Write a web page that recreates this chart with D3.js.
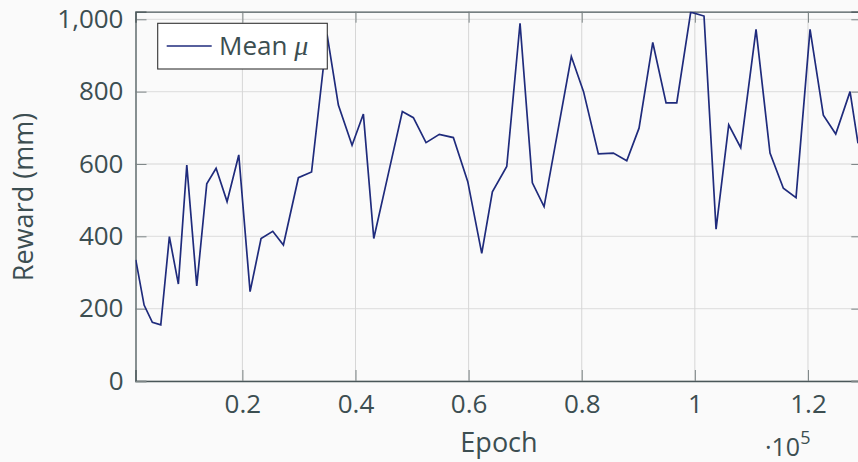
<!DOCTYPE html>
<html>
<head>
<meta charset="utf-8">
<script src="https://cdn.jsdelivr.net/npm/d3@7"></script>
<style>
  html, body { margin: 0; padding: 0; background: #fafafa; }
  svg { display: block; font-family: "Open Sans", "Fira Sans", sans-serif; }
</style>
</head>
<body>
<div id="chart"></div>
<script>
// données
const epochs = [1150, 2620, 4080, 5570, 7090, 8680, 10170, 11930, 13700, 15350,
  17290, 19360, 21360, 23300, 25370, 27250, 29900, 32230, 34970, 36970,
  39390, 41390, 43230, 45760, 48280, 50230, 52470, 54820, 57300, 59850,
  62320, 64200, 66740, 69090, 71270, 73340, 75760, 78160, 80320, 82940,
  85590, 87960, 90130, 92560, 94910, 96800, 99270, 101620, 103750, 105990,
  108110, 110820, 113290, 115650, 117890, 120370, 122720, 124910, 127440, 128850];
const meanReward = [335, 210, 162, 155, 399, 268, 597, 263, 545, 588,
  496, 625, 247, 394, 414, 376, 562, 578, 958, 763,
  652, 738, 394, 570, 745, 728, 659, 682, 673, 551,
  353, 523, 593, 989, 548, 482, 690, 897, 800, 628,
  630, 609, 699, 936, 769, 769, 1020, 1009, 420, 708,
  645, 972, 630, 533, 507, 972, 735, 683, 800, 657];
const xTicks = [20000, 40000, 60000, 80000, 100000, 120000];
const yTicks = [0, 200, 400, 600, 800, 1000];

const width = 858;
const height = 462;
const mLeft = 135.5, mRight = 858.3, mTop = 11.7, mBottom = 381;
const textColor = "#3c4e51";
const lineColor = "#1f2b7c";
const font = "'Open Sans', sans-serif";

const x = d3.scaleLinear().domain([1100, 128900]).range([mLeft, mRight]);
const y = d3.scaleLinear().domain([0, 1021]).range([mBottom, mTop]);

const svg = d3.select("#chart").append("svg")
  .attr("width", width)
  .attr("height", height);

svg.append("rect").attr("width", width).attr("height", height).attr("fill", "#fafafa");

// grille
svg.append("g").selectAll("line").data(yTicks).join("line")
  .attr("x1", mLeft).attr("x2", mRight)
  .attr("y1", d => y(d)).attr("y2", d => y(d))
  .attr("stroke", "#e2e2e2").attr("stroke-width", 1.3);
svg.append("g").selectAll("line").data(xTicks).join("line")
  .attr("x1", d => x(d)).attr("x2", d => x(d))
  .attr("y1", mTop).attr("y2", mBottom)
  .attr("stroke", "#d6d6d6").attr("stroke-width", 1);

// axes (ticks vers l'intérieur)
const axisBottom = d3.axisBottom(x).tickValues(xTicks).tickSize(-11).tickFormat(d => d3.format("~g")(d / 1e5));
const axisLeft = d3.axisLeft(y).tickValues(yTicks).tickSize(-11).tickFormat(d3.format(","));
const axisTop = d3.axisTop(x).tickValues(xTicks).tickSize(-11).tickFormat("");
const axisRight = d3.axisRight(y).tickValues(yTicks).tickSize(-7).tickFormat("");

function styleAxis(g) {
  g.attr("font-family", font).attr("font-size", 26);
  g.select(".domain").attr("stroke", "#4a5759").attr("stroke-width", 1.3);
  g.selectAll(".tick line").attr("stroke", "#7d8586").attr("stroke-width", 1);
  g.selectAll(".tick text").attr("fill", textColor);
}

svg.append("g").attr("transform", `translate(0,${mBottom})`).call(axisBottom)
  .call(styleAxis)
  .call(g => g.selectAll(".tick text").attr("dy", 0).attr("y", 0).attr("transform", "translate(0,32)"));
svg.append("g").attr("transform", `translate(${mLeft},0)`).call(axisLeft)
  .call(styleAxis)
  .call(g => g.selectAll(".tick text").attr("x", -12));
svg.append("g").attr("transform", `translate(0,${mTop})`).call(axisTop).call(styleAxis);
svg.append("g").attr("transform", `translate(${mRight},0)`).call(axisRight).call(styleAxis);

// courbe
svg.append("clipPath").attr("id", "clip")
  .append("rect").attr("x", mLeft).attr("y", mTop).attr("width", mRight - mLeft).attr("height", mBottom - mTop);

const points = epochs.map((e, i) => [e, meanReward[i]]);
svg.append("path")
  .datum(points)
  .attr("clip-path", "url(#clip)")
  .attr("fill", "none")
  .attr("stroke", lineColor)
  .attr("stroke-width", 1.7)
  .attr("stroke-linejoin", "miter")
  .attr("d", d3.line().x(d => x(d[0])).y(d => y(d[1])));

// légende
const legend = svg.append("g");
legend.append("rect")
  .attr("x", 157.7).attr("y", 23.3).attr("width", 169.6).attr("height", 45.7)
  .attr("fill", "#ffffff").attr("stroke", "#333").attr("stroke-width", 1.1);
legend.append("line")
  .attr("x1", 166.7).attr("x2", 211.7).attr("y1", 46).attr("y2", 46)
  .attr("stroke", lineColor).attr("stroke-width", 1.5);
const lt = legend.append("text")
  .attr("x", 219).attr("y", 55)
  .attr("fill", textColor).attr("font-size", 26);
lt.append("tspan").text("Mean ");
lt.append("tspan").attr("font-family", "'Liberation Serif', serif").attr("font-style", "italic").attr("font-size", 28).text("μ");

// titres des axes
svg.append("text")
  .attr("x", 499).attr("y", 452)
  .attr("text-anchor", "middle")
  .attr("fill", textColor).attr("font-size", 27)
  .text("Epoch");

svg.append("text")
  .attr("transform", "translate(33,197) rotate(-90)")
  .attr("text-anchor", "middle")
  .attr("fill", textColor).attr("font-size", 27)
  .text("Reward (mm)");

const exp = svg.append("text")
  .attr("x", 765).attr("y", 456)
  .attr("fill", textColor).attr("font-size", 25);
exp.append("tspan").text("·10");
exp.append("tspan").attr("font-size", 18).attr("dy", -12).text("5");
</script>
</body>
</html>
